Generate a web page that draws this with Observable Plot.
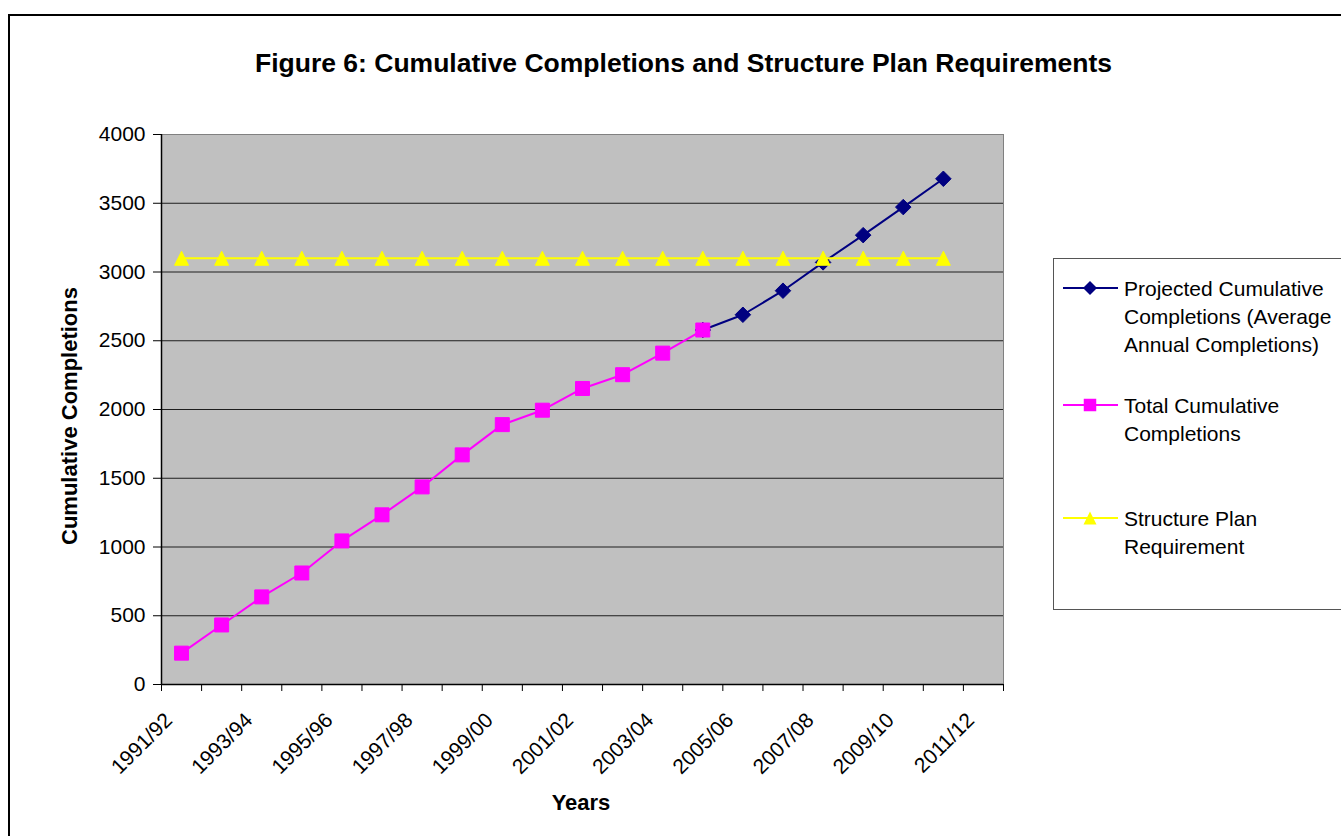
<!DOCTYPE html>
<html>
<head>
<meta charset="utf-8">
<script src="https://cdn.jsdelivr.net/npm/d3@7"></script>
<script src="https://cdn.jsdelivr.net/npm/@observablehq/plot@0.6"></script>
<style>
  html, body { margin: 0; padding: 0; background: #fff; }
  #page { position: relative; width: 1341px; height: 836px; overflow: hidden; background: #fff; }
  #page > svg { position: absolute; left: 0; top: 0; }
  #border { position: absolute; left: 8px; top: 14px; width: 3000px; height: 3000px;
            border-top: 2px solid #000; border-left: 2px solid #000; }
</style>
</head>
<body>
<div id="page"><div id="border"></div></div>
<script>
// Financial years on the category axis
const years = ["1991/92","1992/93","1993/94","1994/95","1995/96","1996/97","1997/98",
  "1998/99","1999/00","2000/01","2001/02","2002/03","2003/04","2004/05","2005/06",
  "2006/07","2007/08","2008/09","2009/10","2010/11","2011/12"];
// Every second year is labelled
const yearLabels = ["1991/92","1993/94","1995/96","1997/98","1999/00","2001/02",
  "2003/04","2005/06","2007/08","2009/10","2011/12"];

// Total cumulative completions, 1991/92 to 2004/05
const totalYears = ["1991/92","1992/93","1993/94","1994/95","1995/96","1996/97","1997/98",
  "1998/99","1999/00","2000/01","2001/02","2002/03","2003/04","2004/05"];
const totalValues = [228, 433, 637, 811, 1044, 1234, 1437, 1670, 1890, 1995, 2153, 2253, 2410, 2578];

// Projected cumulative completions (average annual completions), 2004/05 to 2010/11
const projectedYears = ["2004/05","2005/06","2006/07","2007/08","2008/09","2009/10","2010/11"];
const projectedValues = [2578, 2689, 2864, 3070, 3268, 3472, 3678];

// Structure plan requirement, 1991/92 to 2010/11
const planYears = years.slice(0, 20);
const planValues = [3100, 3100, 3100, 3100, 3100, 3100, 3100, 3100, 3100, 3100,
  3100, 3100, 3100, 3100, 3100, 3100, 3100, 3100, 3100, 3100];

const yTicks = [0, 500, 1000, 1500, 2000, 2500, 3000, 3500, 4000];

// Category index for a year
const idx = y => years.indexOf(y);
const rows = (ys, vs) => ys.map((y, i) => ({i: idx(y), v: vs[i]}));
const projected = rows(projectedYears, projectedValues);
const total = rows(totalYears, totalValues);
const plan = rows(planYears, planValues);
const labelRows = yearLabels.map(l => ({i: idx(l), label: l}));
const boundaries = d3.range(years.length + 1).map(k => k - 0.5);

// Marker shapes whose bounding width is sqrt(size)
const diamond = {draw(ctx, size) { const h = Math.sqrt(size) / 2;
  ctx.moveTo(0, -h); ctx.lineTo(h, 0); ctx.lineTo(0, h); ctx.lineTo(-h, 0); ctx.closePath(); }};
const square = {draw(ctx, size) { const h = Math.sqrt(size) / 2; ctx.rect(-h, -h, 2 * h, 2 * h); }};
const triangle = {draw(ctx, size) { const h = Math.sqrt(size) / 2;
  ctx.moveTo(0, -h); ctx.lineTo(h, h); ctx.lineTo(-h, h); ctx.closePath(); }};
const rFor = w => w / Math.sqrt(Math.PI);

const font = "'Liberation Sans', Arial, sans-serif";
const W = 1341, H = 836;
const mL = 161, mR = 338, mT = 134, mB = 152;

const chart = Plot.plot({
  width: W, height: H,
  marginLeft: mL, marginRight: mR, marginTop: mT, marginBottom: mB,
  style: {fontFamily: font, fontSize: "21px", background: "transparent", color: "#000", overflow: "visible"},
  x: {type: "linear", domain: [-0.5, years.length - 0.5]},
  y: {type: "linear", domain: [0, 4000]},
  marks: [
    Plot.frame({fill: "#C0C0C0", stroke: "#808080"}),
    Plot.ruleY(yTicks.filter(t => t > 0 && t < 4000), {stroke: "#1e1e1e", strokeWidth: 1}),
    Plot.ruleX([-0.5], {stroke: "#000", strokeWidth: 1.5}),
    Plot.ruleY([0], {stroke: "#000", strokeWidth: 1.5}),
    Plot.axisY({ticks: yTicks, tickSize: 8, tickPadding: 8, fontSize: 21, label: null, tickFormat: d => String(d)}),
    Plot.axisX({ticks: boundaries, tickSize: 7, tickFormat: () => "", label: null}),
    Plot.text(labelRows, {x: "i", text: "label", frameAnchor: "bottom", dx: -8, dy: 37,
      rotate: -45, textAnchor: "end", lineAnchor: "bottom", fontSize: 21, fill: "#000"}),
    Plot.line(projected, {x: "i", y: "v", stroke: "#000080", strokeWidth: 2}),
    Plot.dot(projected, {x: "i", y: "v", symbol: diamond, r: rFor(15.5), fill: "#000080", stroke: "#000080", strokeWidth: 1}),
    Plot.line(total, {x: "i", y: "v", stroke: "#FF00FF", strokeWidth: 2}),
    Plot.dot(total, {x: "i", y: "v", symbol: square, r: rFor(14), fill: "#FF00FF", stroke: "#FF00FF", strokeWidth: 1}),
    Plot.line(plan, {x: "i", y: "v", stroke: "#FFFF00", strokeWidth: 2}),
    Plot.dot(plan, {x: "i", y: "v", symbol: triangle, r: rFor(14), fill: "#FFFF00", stroke: "#FFFF00", strokeWidth: 1})
  ]
});
const page = document.getElementById("page");
page.appendChild(chart);

// Titles and legend
const svg = d3.select(page).append("svg")
  .attr("width", W).attr("height", H)
  .style("font-family", font).style("pointer-events", "none");

svg.append("text").attr("x", 683.5).attr("y", 72).attr("text-anchor", "middle")
  .attr("font-size", 26.5).attr("font-weight", "bold")
  .text("Figure 6: Cumulative Completions and Structure Plan Requirements");
svg.append("text").attr("transform", "translate(77,416) rotate(-90)").attr("text-anchor", "middle")
  .attr("font-size", 22).attr("font-weight", "bold").text("Cumulative Completions");
svg.append("text").attr("x", 581).attr("y", 810).attr("text-anchor", "middle")
  .attr("font-size", 22).attr("font-weight", "bold").text("Years");

const lg = svg.append("g");
lg.append("rect").attr("x", 1053.5).attr("y", 258.5).attr("width", 400).attr("height", 351)
  .attr("fill", "#fff").attr("stroke", "#555").attr("stroke-width", 1);
const entries = [
  {lines: ["Projected Cumulative", "Completions (Average", "Annual Completions)"], y: 288, color: "#000080", symbol: diamond, w: 14},
  {lines: ["Total Cumulative", "Completions"], y: 405, color: "#FF00FF", symbol: square, w: 12.5},
  {lines: ["Structure Plan", "Requirement"], y: 518, color: "#FFFF00", symbol: triangle, w: 13}
];
entries.forEach(e => {
  const g = lg.append("g");
  g.append("line").attr("x1", 1063).attr("x2", 1118).attr("y1", e.y).attr("y2", e.y)
    .attr("stroke", e.color).attr("stroke-width", 2);
  g.append("path").attr("transform", `translate(1090,${e.y})`)
    .attr("d", d3.symbol(e.symbol, e.w * e.w)()).attr("fill", e.color);
  const t = g.append("text").attr("x", 1124).attr("y", e.y + 7.5).attr("font-size", 21);
  e.lines.forEach((l, j) => t.append("tspan").attr("x", 1124).attr("dy", j === 0 ? 0 : 28).text(l));
});
</script>
</body>
</html>
